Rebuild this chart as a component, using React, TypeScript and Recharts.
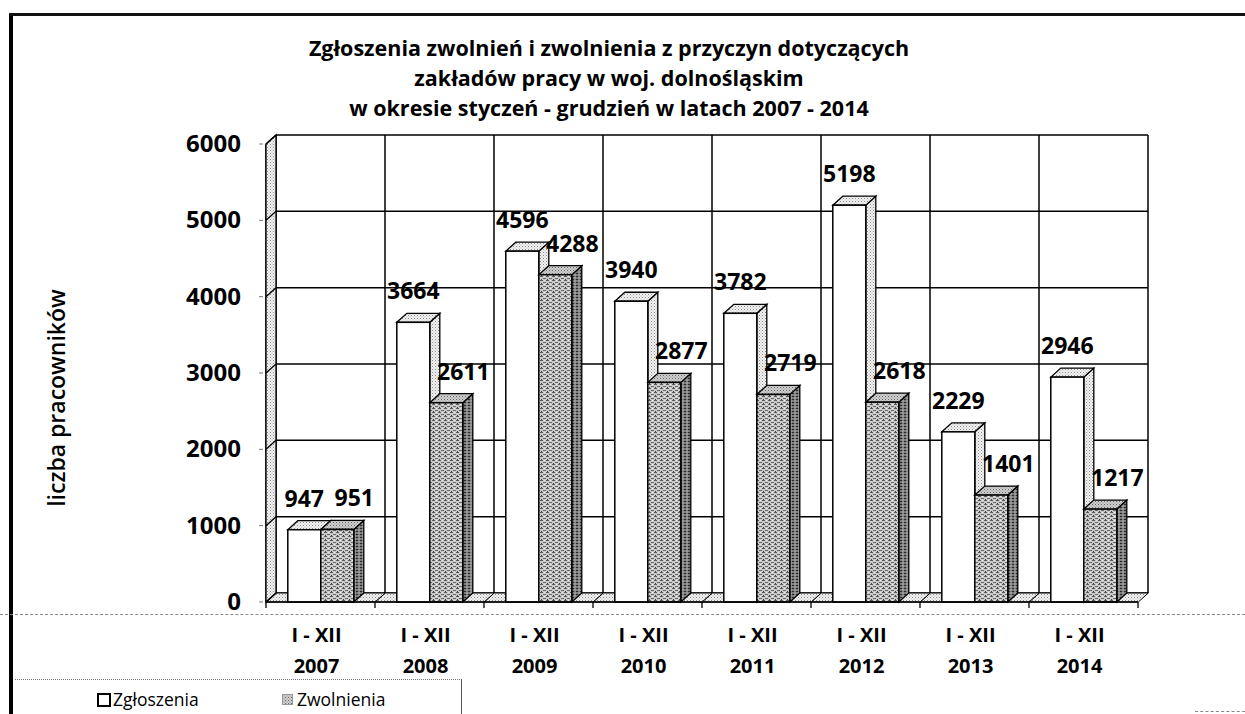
import React from 'react';
import { BarChart, Bar, XAxis, YAxis, CartesianGrid, LabelList } from 'recharts';

// ---------- data ----------
const categories = ['2007', '2008', '2009', '2010', '2011', '2012', '2013', '2014'];
const periodLabel = 'I - XII';
const zgloszenia = [947, 3664, 4596, 3940, 3782, 5198, 2229, 2946];
const zwolnienia = [951, 2611, 4288, 2877, 2719, 2618, 1401, 1217];
const yTicks = [0, 1000, 2000, 3000, 4000, 5000, 6000];
const titleLines = [
  'Zgłoszenia zwolnień i zwolnienia z przyczyn dotyczących',
  'zakładów pracy w woj. dolnośląskim',
  'w okresie styczeń - grudzień w latach 2007 - 2014',
];
const yAxisTitle = 'liczba pracowników';
const seriesNames = ['Zgłoszenia', 'Zwolnienia'];

const data = categories.map((c, i) => ({ year: c, zg: zgloszenia[i], zw: zwolnienia[i] }));

// ---------- layout ----------
const W = 1245;
const H = 714;
const PLOT_LEFT = 266;
const PLOT_TOP = 144;
const PLOT_W = 872;
const PLOT_H = 458;
const PLOT_BOTTOM = PLOT_TOP + PLOT_H;
const BAND = PLOT_W / categories.length;
const DX = 10;
const DY = 9;
const FONT = '"Open Sans", "DejaVu Sans", sans-serif';

const Defs = () => (
  <svg width={0} height={0} style={{ position: 'absolute' }}>
    <defs>
      <pattern id="lightDots" width="3" height="3" patternUnits="userSpaceOnUse">
        <rect width="3" height="3" fill="#f2f2f2" />
        <rect x="0" y="0" width="1" height="1" fill="#8a8a8a" />
        <rect x="1.5" y="1.5" width="1" height="1" fill="#b0b0b0" />
      </pattern>
      <pattern id="zwFront" width="6" height="4" patternUnits="userSpaceOnUse">
        <rect width="6" height="4" fill="#c9c9c9" />
        <rect x="0" y="0" width="3" height="1" fill="#5a5a5a" />
        <rect x="3" y="2" width="3" height="1" fill="#6a6a6a" />
        <rect x="4" y="0" width="1" height="1" fill="#eeeeee" />
        <rect x="1" y="3" width="1" height="1" fill="#444444" />
      </pattern>
      <pattern id="zwSide" width="4" height="3" patternUnits="userSpaceOnUse">
        <rect width="4" height="3" fill="#7c7c7c" />
        <rect x="0" y="0" width="2" height="1" fill="#2a2a2a" />
        <rect x="2" y="1.5" width="2" height="1" fill="#b5b5b5" />
      </pattern>
      <pattern id="zwTop" width="3" height="3" patternUnits="userSpaceOnUse">
        <rect width="3" height="3" fill="#cfcfcf" />
        <rect x="0" y="0" width="1" height="1" fill="#666" />
        <rect x="1.5" y="1.5" width="1" height="1" fill="#888" />
      </pattern>
    </defs>
  </svg>
);

const Box3D = (props: any) => {
  const { x, y, width, height, front, top, side, floor } = props;
  if (x == null || y == null || !width) return null;
  const y0 = y + height;
  const bl = x - (BAND - 2 * width) / 2;
  const xr = x + width;
  return (
    <g>
      {floor && (
        <polygon
          points={`${bl},${y0} ${bl + BAND},${y0} ${bl + BAND + DX},${y0 - DY} ${bl + DX},${y0 - DY}`}
          fill="url(#lightDots)"
          stroke="#000"
          strokeWidth={1}
        />
      )}
      <polygon
        points={`${xr},${y} ${xr + DX},${y - DY} ${xr + DX},${y0 - DY} ${xr},${y0}`}
        fill={side}
        stroke="#000"
        strokeWidth={1.3}
      />
      <polygon
        points={`${x},${y} ${x + DX},${y - DY} ${xr + DX},${y - DY} ${xr},${y}`}
        fill={top}
        stroke="#000"
        strokeWidth={1.3}
      />
      <rect x={x} y={y} width={width} height={height} fill={front} stroke="#000" strokeWidth={1.5} />
    </g>
  );
};

const ZgShape = (p: any) => <Box3D {...p} front="#ffffff" top="url(#lightDots)" side="url(#lightDots)" floor />;
const ZwShape = (p: any) => <Box3D {...p} front="url(#zwFront)" top="url(#zwTop)" side="url(#zwSide)" />;

const makeLabel = (shift: number) => (props: any) => {
  const vb = props.viewBox || {};
  const x = props.x ?? vb.x;
  const y = props.y ?? vb.y;
  const width = props.width ?? vb.width;
  if (x == null) return null;
  return (
    <text
      x={x + width / 2 + shift}
      y={y - 23}
      textAnchor="middle"
      fontFamily={FONT}
      fontWeight={700}
      fontSize={23}
      fill="#000"
    >
      {props.value}
    </text>
  );
};

const YTick = (props: any) => {
  const { x, y, payload, index } = props;
  return (
    <g>
      {index === 0 && (
        <polygon
          points={`${x},${y} ${x + DX},${y - DY} ${x + DX},${y - DY - PLOT_H} ${x},${y - PLOT_H}`}
          fill="url(#lightDots)"
          stroke="#000"
          strokeWidth={1.3}
        />
      )}
      <line x1={x} y1={y} x2={x + DX} y2={y - DY} stroke="#000" strokeWidth={1.3} />
      <line x1={x - 7} y1={y} x2={x - 3} y2={y} stroke="#777" strokeWidth={1} />
      <text x={x - 25} y={y + 8} textAnchor="end" fontFamily={FONT} fontWeight={700} fontSize={24} fill="#000">
        {payload.value}
      </text>
    </g>
  );
};

const XTick = (props: any) => {
  const { x, y, payload, index } = props;
  const left = x - BAND / 2;
  const right = x + BAND / 2;
  return (
    <g>
      <line x1={left} y1={y} x2={left} y2={y + 6} stroke="#000" strokeWidth={1.3} />
      {index === categories.length - 1 && (
        <line x1={right} y1={y} x2={right} y2={y + 6} stroke="#000" strokeWidth={1.3} />
      )}
      <text x={x - 4} y={y + 40} textAnchor="middle" fontFamily={FONT} fontWeight={700} fontSize={20} fill="#000">
        {periodLabel}
      </text>
      <text x={x - 4} y={y + 71} textAnchor="middle" fontFamily={FONT} fontWeight={700} fontSize={20} fill="#000">
        {payload.value}
      </text>
    </g>
  );
};

export default function App() {
  return (
    <div style={{ position: 'absolute', left: 0, top: 0, width: W, height: H, background: '#fff', overflow: 'hidden' }}>
      <style>{`.back-grid { transform: translate(${DX}px, -${DY}px); }`}</style>
      <Defs />
      <BarChart
        width={W}
        height={H}
        data={data}
        margin={{ top: PLOT_TOP, left: PLOT_LEFT - 100, right: W - PLOT_LEFT - PLOT_W, bottom: H - PLOT_BOTTOM - 60 }}
        barCategoryGap="20%"
        barGap={0}
      >
        <CartesianGrid
          className="back-grid"
          stroke="#000"
          strokeWidth={1.5}
          strokeOpacity={1}
          verticalCoordinatesGenerator={({ offset }: any) =>
            categories.map((_, i) => offset.left + (i * offset.width) / categories.length).concat([offset.left + offset.width])
          }
        />
        <XAxis
          dataKey="year"
          height={60}
          interval={0}
          tickSize={0}
          tickMargin={0}
          tickLine={false}
          axisLine={{ stroke: '#000', strokeWidth: 1.5 }}
          tick={<XTick />}
        />
        <YAxis
          width={100}
          domain={[0, 6000]}
          ticks={yTicks}
          interval={0}
          tickSize={0}
          tickMargin={0}
          tickLine={false}
          axisLine={{ stroke: '#000', strokeWidth: 1.5 }}
          tick={<YTick />}
        />
        <Bar dataKey="zg" name={seriesNames[0]} shape={<ZgShape />} isAnimationActive={false}>
          <LabelList dataKey="zg" content={makeLabel(0)} />
        </Bar>
        <Bar dataKey="zw" name={seriesNames[1]} shape={<ZwShape />} isAnimationActive={false}>
          <LabelList dataKey="zw" content={makeLabel(17)} />
        </Bar>
      </BarChart>

      {/* title */}
      <div
        style={{
          position: 'absolute',
          left: 0,
          top: 48 - 15,
          width: 1218,
          textAlign: 'center',
          fontFamily: FONT,
          fontWeight: 700,
          fontSize: 21.5,
          lineHeight: '30px',
          color: '#000',
          whiteSpace: 'nowrap',
        }}
      >
        {titleLines.map((t) => (
          <div key={t}>{t}</div>
        ))}
      </div>

      {/* y axis title */}
      <div
        style={{
          position: 'absolute',
          left: 56 - 150,
          top: 398 - 16,
          width: 300,
          height: 32,
          lineHeight: '32px',
          textAlign: 'center',
          transform: 'rotate(-90deg)',
          fontFamily: FONT,
          fontSize: 23,
          fontWeight: 600,
          color: '#000',
          whiteSpace: 'nowrap',
        }}
      >
        {yAxisTitle}
      </div>

      {/* frame lines */}
      <div style={{ position: 'absolute', left: 9, top: 13, width: 4, height: H - 13, background: '#000' }} />
      <div style={{ position: 'absolute', left: 9, top: 13, width: W - 9, height: 3, background: '#111' }} />
      <div style={{ position: 'absolute', left: 0, top: 614, width: W, height: 0, borderTop: '1px dashed #8a8a8a' }} />
      <div style={{ position: 'absolute', left: 15, top: 679, width: 447, height: 0, borderTop: '1px dotted #777' }} />
      <div style={{ position: 'absolute', left: 461, top: 679, width: 1, height: H - 679, background: '#555' }} />
      <div style={{ position: 'absolute', left: 1195, top: 711, width: 50, height: 0, borderTop: '1px dashed #888' }} />

      {/* legend */}
      <div style={{ position: 'absolute', left: 97, top: 693, width: 10, height: 10, border: '2px solid #000', background: '#fff' }} />
      <div
        style={{ position: 'absolute', left: 113, top: 686, fontFamily: FONT, fontSize: 17.5, lineHeight: '26px', color: '#000' }}
      >
        {seriesNames[0]}
      </div>
      <svg style={{ position: 'absolute', left: 282, top: 694 }} width={11} height={11}>
        <rect x={0.5} y={0.5} width={10} height={10} fill="url(#zwTop)" stroke="#999" strokeWidth={1} />
      </svg>
      <div
        style={{ position: 'absolute', left: 297, top: 686, fontFamily: FONT, fontSize: 17.5, lineHeight: '26px', color: '#000' }}
      >
        {seriesNames[1]}
      </div>
    </div>
  );
}
